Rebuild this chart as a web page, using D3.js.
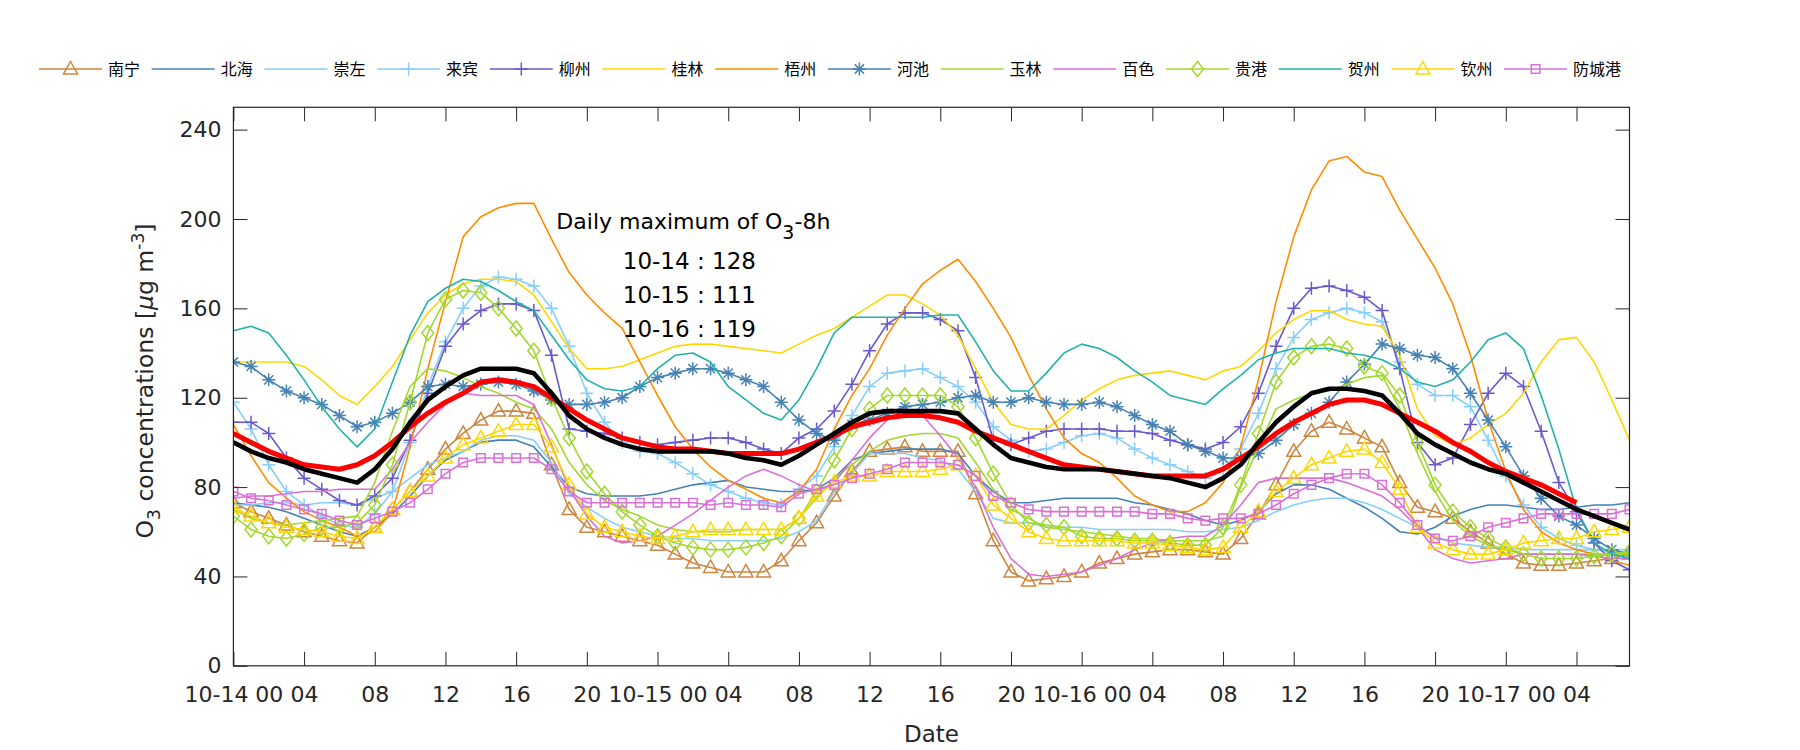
<!DOCTYPE html>
<html><head><meta charset="utf-8">
<script src="https://cdn.jsdelivr.net/npm/d3@7"></script>
<style>
body{margin:0;background:#fff;}
svg{display:block;}
text{font-family:"DejaVu Sans",sans-serif;}
</style>
</head><body>
<svg id="chart" width="1800" height="750"></svg>
<script>
// ---------------- data ----------------
const cities = ["南宁","北海","崇左","来宾","柳州","桂林","梧州","河池","玉林","百色","贵港","贺州","钦州","防城港"];
const hours = d3.range(80); // hourly, 10-14 00:00 .. 10-17 07:00

const nanning = [73,69,66,63,60,58,56,55,62,70, 78,88,97,104,110,114,114,113,90,70, 62,60,58,56,54,50,46,44,42,42, 42,47,56,64,76,87,96,97,98,96, 96,96,77,56,42,38,39,40,42,46, 48,50,51,52,52,51,50,57,68,81, 96,105,109,106,102,98,82,71,69,66, 60,55,50,46,45,45,46,47,48,50];
const beihai = [73,72,71,69,66,63,60,58,62,68, 76,85,92,96,100,101,101,98,89,80, 77,76,76,76,77,79,81,82,83,80, 79,78,78,79,84,92,95,96,97,97, 97,95,85,78,73,73,74,75,75,75, 75,73,72,70,68,65,63,65,69,77, 81,81,79,75,71,66,60,59,62,67, 70,72,72,71,70,70,71,72,72,73];
const chongzuo = [72,72,73,73,72,73,73,72,75,78, 84,90,93,96,101,103,103,101,91,77, 71,66,62,60,58,57,57,56,56,56, 56,57,60,65,78,86,95,95,95,93, 92,88,78,66,64,64,62,62,62,61, 61,61,61,61,60,60,61,62,65,69, 72,74,75,75,73,70,66,62,58,55, 54,53,53,52,52,52,52,52,52,52];
const laibin = [118,106,90,78,72,67,63,62,68,78, 100,125,145,160,170,174,173,170,160,143, 122,109,100,96,95,91,86,81,78,75, 73,72,79,85,98,112,125,131,132,133, 129,125,118,107,101,96,97,100,103,104, 102,97,93,90,87,84,88,97,113,133, 147,155,158,160,158,154,136,126,121,121, 116,101,85,72,62,57,54,52,51,50];
const liuzhou = [109,109,104,93,84,79,74,72,76,84, 101,122,143,153,159,162,162,159,139,106, 105,104,102,100,99,100,101,102,102,100, 97,95,102,106,114,126,141,153,158,158, 155,150,129,101,99,102,105,106,106,106, 105,105,104,101,99,97,100,107,122,143, 160,169,170,168,165,159,133,100,90,93, 108,122,131,125,105,82,69,55,47,43];
const guilin = [136,136,136,136,134,128,121,117,125,134, 146,158,166,171,173,173,172,166,154,142, 133,133,134,137,140,143,144,144,143,142, 141,140,144,148,151,156,161,166,166,162, 157,148,133,118,108,106,106,112,119,124, 128,130,131,132,130,128,132,134,141,149, 155,159,159,155,153,152,139,115,103,99, 102,108,113,122,136,146,147,136,119,101];
const wuzhou = [108,94,82,75,69,65,62,58,60,69, 98,133,163,192,201,205,207,207,191,176, 166,158,151,136,121,107,97,89,83,79, 75,73,78,88,106,121,133,148,160,171, 177,182,172,160,147,130,115,102,95,91, 84,76,72,69,69,73,82,98,128,163, 192,213,226,228,221,219,204,191,178,162, 139,110,87,70,60,55,52,50,47,45];
const hechi = [136,134,128,123,120,117,112,107,109,113, 118,125,126,125,126,127,126,123,119,117, 117,118,120,125,129,131,133,133,131,128, 125,118,110,104,101,108,110,113,116,117, 118,120,121,118,118,120,118,117,117,118, 116,112,108,105,99,96,93,93,95,101, 108,113,118,127,135,144,142,139,138,133, 122,110,98,85,75,67,63,57,52,50];
const yulin = [70,66,64,63,64,65,66,67,82,105, 125,133,132,129,125,122,118,115,106,91, 81,74,70,67,63,61,60,60,60,61, 61,61,66,75,84,90,96,101,103,104, 104,102,91,79,70,66,62,61,60,59, 58,57,57,56,56,56,58,80,98,115, 119,122,123,126,129,130,115,95,78,65, 58,54,52,50,50,50,50,50,50,50];
const baise = [75,76,76,77,78,78,79,79,79,88, 100,109,117,122,121,121,121,117,99,79, 67,58,55,56,58,63,68,74,80,85, 88,85,81,78,82,92,102,110,115,112, 103,93,80,62,48,41,40,41,42,45, 48,52,55,57,58,58,63,72,82,84, 84,84,84,82,79,76,70,62,52,48, 46,47,48,50,50,50,50,49,48,48];
const guigang = [67,61,58,57,59,62,62,64,72,90, 118,149,164,168,167,160,151,141,120,102, 87,77,69,63,58,55,53,52,52,53, 55,58,66,78,92,106,115,121,121,121, 121,116,102,86,72,64,63,62,58,57, 57,56,56,55,54,54,62,81,104,127, 138,143,144,142,134,131,121,100,81,69, 62,57,53,50,48,48,48,49,50,51];
const hezhou = [150,152,149,139,128,116,106,98,106,127, 148,163,169,173,172,168,163,159,148,137, 128,124,123,125,133,139,140,136,125,119, 113,110,119,133,149,156,156,156,156,156, 157,157,145,132,123,123,131,140,144,142, 138,132,127,121,119,117,124,130,137,140, 142,142,142,140,139,137,133,127,125,128, 136,146,149,142,121,97,70,55,50,48];
const qinzhou = [71,67,64,62,61,60,58,57,62,70, 78,85,93,99,102,105,108,108,98,81, 68,62,60,58,57,58,60,61,61,61, 61,61,66,76,82,85,85,87,87,87, 88,90,85,72,66,60,57,56,56,56, 56,55,55,54,53,52,53,62,69,78, 84,90,93,96,97,91,79,62,55,52, 50,50,52,55,56,57,57,60,61,62];
const fangchenggang = [78,75,74,72,70,68,65,63,66,69, 73,79,86,91,93,93,93,93,88,78, 73,73,73,73,73,73,73,72,73,72, 72,71,77,79,81,84,86,88,91,91, 91,90,85,76,73,70,69,69,69,69, 69,69,68,68,66,65,66,66,68,72, 77,81,84,86,86,81,73,63,57,56, 58,62,64,66,68,68,68,68,68,70];
// regional averages (thick lines, not in legend)
const avgRed = [104,100,96,93,90,89,88,90,94,100, 107,113,118,122,127,128,127,125,120,115, 110,106,102,100,98,97,97,96,95,95, 95,95,97,100,103,107,109,111,112,112, 111,109,105,102,99,96,93,90,89,88, 87,86,85,85,85,85,88,93,98,104, 109,113,117,119,119,117,113,109,105,100, 96,91,87,84,81,77,73];
const avgBlack = [100,96,93,91,88,86,84,82,88,97, 109,119,125,130,133,133,133,131,122,112, 106,102,99,97,96,96,96,96,95,93, 92,90,94,99,104,109,113,114,114,114, 114,113,106,99,93,91,89,88,88,88, 87,86,85,84,82,80,84,90,100,109, 116,122,124,124,123,121,113,104,99,95, 91,88,86,82,78,74,70,67,64,61];

const xTickHours = [0,4,8,12,16,20,24,28,32,36,40,44,48,52,56,60,64,68,72,76];
const xTickLabels = ["10-14 00","04","08","12","16","20","10-15 00","04","08","12","16","20","10-16 00","04","08","12","16","20","10-17 00","04"];
const yTicks = [0,40,80,120,160,200,240];
const annotationTitle = "Daily maximum of O";
const annotationLines = ["10-14 : 128","10-15 : 111","10-16 : 119"];

// ---------------- styling table ----------------
const seriesData = [nanning,beihai,chongzuo,laibin,liuzhou,guilin,wuzhou,hechi,yulin,baise,guigang,hezhou,qinzhou,fangchenggang];
const colors = ["#CD853F","#4682B4","#87CEFA","#87CEFA","#6A5ACD","#FFD700","#FF8C00","#4682B4","#A2D82E","#DA70D6","#A2D82E","#20B2AA","#FFD700","#DA70D6"];
const markers = ["tri",null,null,"plus","plus",null,null,"star",null,null,"diamond",null,"tri","square"];

const svg = d3.select("#chart");
svg.append("rect").attr("width",1800).attr("height",750).attr("fill","#fff");

const L=233.4, R=1629.5, T=107.3, B=665.8;
const x = d3.scaleLinear().domain([0,79]).range([L,R]);
const y = d3.scaleLinear().domain([0,250]).range([B,T]);

function markerPath(t){
  switch(t){
    case "tri": return "M0,-7.5L7,5L-7,5Z";
    case "plus": return "M-6.5,0H6.5M0,-6.5V6.5";
    case "star": return "M-6.5,0H6.5M0,-6.5V6.5M-4.6,-4.6L4.6,4.6M-4.6,4.6L4.6,-4.6";
    case "diamond": return "M0,-7.5L6,0L0,7.5L-6,0Z";
    case "square": return "M-4.3,-4.3H4.3V4.3H-4.3Z";
  }
  return "";
}

svg.append("clipPath").attr("id","clip").append("rect").attr("x",L).attr("y",T).attr("width",R-L).attr("height",B-T);
const plot = svg.append("g").attr("clip-path","url(#clip)");

const line = d3.line().x((d,i)=>x(hours[i])).y(d=>y(d));

seriesData.forEach((arr,k)=>{
  const g = plot.append("g");
  g.append("path").datum(arr).attr("d",line).attr("fill","none")
    .attr("stroke",colors[k]).attr("stroke-width",1.6).attr("stroke-linejoin","round");
  if(markers[k]){
    g.selectAll("path.m").data(arr).join("path").attr("class","m")
      .attr("d",markerPath(markers[k]))
      .attr("transform",(d,i)=>`translate(${x(hours[i])},${y(d)})`)
      .attr("fill","none").attr("stroke",colors[k]).attr("stroke-width",1.5);
  }
});

plot.append("path").datum(avgRed).attr("d",line).attr("fill","none").attr("stroke","#FF0000").attr("stroke-width",5).attr("stroke-linejoin","round");
plot.append("path").datum(avgBlack).attr("d",line).attr("fill","none").attr("stroke","#000000").attr("stroke-width",4.6).attr("stroke-linejoin","round");

// axes
const axColor = "#262626";
const gL = svg.append("g").attr("transform",`translate(${L},0)`)
  .call(d3.axisLeft(y).tickValues(yTicks).tickSize(-14).tickPadding(12));
const gR = svg.append("g").attr("transform",`translate(${R},0)`)
  .call(d3.axisRight(y).tickValues(yTicks).tickSize(-14).tickFormat(""));
const gB = svg.append("g").attr("transform",`translate(0,${B})`)
  .call(d3.axisBottom(x).tickValues(xTickHours).tickSize(-14).tickPadding(21).tickFormat((d,i)=>xTickLabels[i]));
const gT = svg.append("g").attr("transform",`translate(0,${T})`)
  .call(d3.axisTop(x).tickValues(xTickHours).tickSize(-14).tickFormat(""));
[gL,gR,gB,gT].forEach(g=>{
  g.select(".domain").remove();
  g.selectAll(".tick line").attr("stroke",axColor).attr("stroke-width",1);
  g.selectAll(".tick text").attr("fill",axColor).style("font-size","22px").style("font-family","'DejaVu Sans',sans-serif");
});
svg.append("rect").attr("x",L).attr("y",T).attr("width",R-L).attr("height",B-T)
  .attr("fill","none").attr("stroke",axColor).attr("stroke-width",1.2);

// axis labels
svg.append("text").attr("x",(L+R)/2).attr("y",742).attr("text-anchor","middle")
  .attr("fill",axColor).style("font-size","23px").text("Date");
const yl = svg.append("text").attr("transform",`translate(153,381) rotate(-90)`)
  .attr("text-anchor","middle").attr("fill",axColor).style("font-size","23.5px");
yl.append("tspan").text("O");
yl.append("tspan").attr("dy",7).style("font-size","17px").text("3");
yl.append("tspan").attr("dy",-7).text(" concentrations [");
yl.append("tspan").style("font-style","italic").text("μ");
yl.append("tspan").text("g m");
yl.append("tspan").attr("dy",-9).style("font-size","17px").text("-3");
yl.append("tspan").attr("dy",9).text("]");

// annotation
const ann = svg.append("g").attr("transform",`translate(${x(25.8)},${y(195.5)})`);
const t0 = ann.append("text").attr("x",4).attr("text-anchor","middle").attr("fill","#000").style("font-size","22px");
t0.append("tspan").text(annotationTitle);
t0.append("tspan").attr("dy",10).style("font-size","19px").text("3");
t0.append("tspan").attr("dy",-10).text("-8h");
annotationLines.forEach((s,i)=>{
  ann.append("text").attr("x",0).attr("y",40+i*34).attr("text-anchor","middle").attr("fill","#000")
    .style("font-size","23px").text(s);
});

// legend
const lg = svg.append("g");
cities.forEach((c,k)=>{
  const x0 = 39 + k*112.7, yy = 69;
  const g = lg.append("g").attr("transform",`translate(${x0},${yy})`);
  g.append("line").attr("x1",0).attr("x2",63).attr("y1",0).attr("y2",0).attr("stroke",colors[k]).attr("stroke-width",1.6);
  if(markers[k]) g.append("path").attr("d",markerPath(markers[k])).attr("transform","translate(31.5,0)")
    .attr("fill","none").attr("stroke",colors[k]).attr("stroke-width",1.5);
  g.append("text").attr("x",69).attr("y",2).attr("dominant-baseline","middle")
    .style("font-family","'Noto Sans CJK SC',sans-serif").style("font-size","16px").attr("fill","#000").text(c);
});
</script>
</body></html>
